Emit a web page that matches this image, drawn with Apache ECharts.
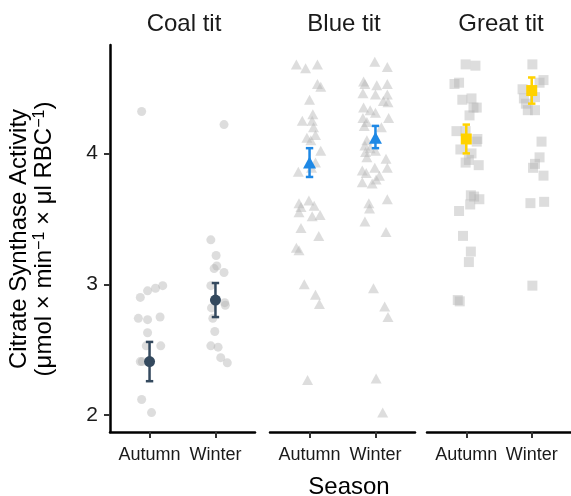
<!DOCTYPE html>
<html>
<head>
<meta charset="utf-8">
<title>Citrate synthase activity</title>
<script src="https://cdn.jsdelivr.net/npm/echarts@6.0.0/dist/echarts.min.js"></script>
<style>
  html, body { margin: 0; padding: 0; background: #fff; }
  #main { width: 571px; height: 496px; }
</style>
</head>
<body>
<div id="main"></div>
<script>
// facets and x categories
const species = ['Coal tit', 'Blue tit', 'Great tit'];
const seasons = ['Autumn', 'Winter'];
const yTicks = [2, 3, 4];

const coalAutumn = [4.32, 2.90, 2.95, 2.97, 2.99, 2.74, 2.73, 2.75, 2.63, 2.53, 2.53, 2.41, 2.41, 2.12, 2.02];
const coalAutumnJit = [-0.12, -0.14, -0.03, 0.09, 0.2, -0.17, -0.03, 0.16, -0.03, -0.05, 0.17, -0.14, -0.11, -0.12, 0.03];
const coalWinter = [4.22, 3.34, 3.22, 3.14, 3.12, 3.09, 2.99, 2.86, 2.84, 2.82, 2.74, 2.64, 2.53, 2.52, 2.44, 2.40];
const coalWinterJit = [0.13, -0.07, 0.01, 0.02, -0.02, 0.13, -0.07, 0.14, 0.15, -0.06, -0.04, -0.01, -0.07, 0.04, 0.08, 0.18];

const blueAutumn = [4.68, 4.65, 4.68, 4.53, 4.51, 4.41, 4.30, 4.25, 4.25, 4.20, 4.12, 4.14, 4.10, 4.02, 3.93, 3.86,
  3.89, 3.62, 3.64, 3.59, 3.60, 3.55, 3.52, 3.53, 3.43, 3.37, 3.28, 3.26, 3.00, 2.92, 2.85, 2.27];
const blueAutumnJit = [-0.2, -0.06, 0.12, 0.12, 0.17, 0, 0.05, -0.11, 0.04, 0.06, -0.04, 0.09, 0.02, 0.17, 0.09, -0.17,
  0.03, -0.16, -0.01, -0.13, 0.07, -0.16, 0.04, 0.16, -0.13, 0.14, -0.2, -0.16, -0.08, 0.09, 0.15, -0.03];
const blueWinter = [4.70, 4.66, 4.55, 4.52, 4.53, 4.53, 4.46, 4.45, 4.45, 4.40, 4.39, 4.35, 4.33, 4.31, 4.27, 4.27,
  4.24, 4.21, 4.20, 4.10, 4.06, 4.04, 4.01, 4.02, 3.97, 3.96, 3.89, 3.89, 3.87, 3.85, 3.83, 3.80, 3.78, 3.77,
  3.65, 3.62, 3.58, 3.48, 3.40, 2.97, 2.83, 2.75, 2.28, 2.02];
const blueWinterJit = [-0.01, 0.18, -0.18, 0.02, 0.18, -0.16, -0.19, 0, 0.18, 0.12, 0.19, -0.18, -0.08, 0, -0.19, 0.2,
  -0.13, -0.17, 0.09, -0.13, -0.16, -0.08, -0.15, 0, -0.13, 0.16, 0.18, -0.01, -0.2, -0.14, 0.06, 0.01, -0.2, -0.05,
  0.18, -0.1, -0.09, -0.16, 0.16, -0.03, 0.14, 0.19, 0.01, 0.11];

const greatAutumn = [4.68, 4.67, 4.53, 4.54, 4.41, 4.42, 4.35, 4.35, 4.29, 4.17, 4.17, 4.11, 4.09, 4.03, 4.00, 3.95,
  3.93, 3.91, 3.68, 3.67, 3.65, 3.61, 3.56, 3.37, 3.25, 3.17, 2.88, 2.87];
const greatAutumnJit = [-0.01, 0.14, -0.18, -0.11, -0.06, 0.08, 0.11, 0.16, 0.05, -0.15, -0.01, 0.17, 0.16, -0.09, 0.08, 0.04,
  -0.01, 0.19, 0.07, 0.12, 0.2, 0.06, -0.11, -0.05, 0.07, 0.04, -0.13, -0.1];
const greatWinter = [4.68, 4.56, 4.54, 4.49, 4.42, 4.43, 4.38, 4.33, 4.33, 4.09, 3.97, 3.92, 3.89, 3.83, 3.62, 3.63, 2.99];
const greatWinterJit = [0.01, 0.18, 0.12, -0.14, -0.12, 0.05, -0.09, -0.06, 0.05, 0.15, 0.12, 0.05, 0.02, 0.18, -0.02, 0.19, 0.01];

// estimated means and interval limits, one row per species: [Autumn, Winter]
const means = [[2.41, 2.88], [3.93, 4.12], [4.11, 4.48]];
const lower = [[2.26, 2.75], [3.82, 4.04], [4.00, 4.38]];
const upper = [[2.56, 3.01], [4.04, 4.21], [4.22, 4.58]];

const raw = [
  [[coalAutumn, coalAutumnJit], [coalWinter, coalWinterJit]],
  [[blueAutumn, blueAutumnJit], [blueWinter, blueWinterJit]],
  [[greatAutumn, greatAutumnJit], [greatWinter, greatWinterJit]]
];

const shapes = ['circle', 'triangle', 'rect'];
const rawSize = [9, [11, 10], 10];
const meanSize = [11, [13, 12], 11];
const meanColors = ['#34495e', '#1e88e5', '#ffd200'];
const font = 'Liberation Sans';

const chart = echarts.init(document.getElementById('main'), null, { renderer: 'canvas' });

const gridPos = [110, 270, 427];
const grids = gridPos.map(l => ({ left: l, width: 145, top: 45, height: 387 }));

const xAxes = species.map((s, i) => ({
  type: 'value', gridIndex: i, min: 0.4, max: 2.6,
  splitLine: { show: false },
  axisLine: { show: true, lineStyle: { color: '#000', width: 2.5 } },
  axisTick: { show: true, customValues: [1, 2], length: 6, lineStyle: { color: '#333', width: 2 } },
  axisLabel: {
    customValues: [1, 2], margin: 14, color: '#1a1a1a', fontSize: 18, fontFamily: font,
    formatter: v => seasons[Math.round(v) - 1]
  }
}));

const yAxes = species.map((s, i) => ({
  type: 'value', gridIndex: i, min: 1.872, max: 4.828,
  splitLine: { show: false },
  axisLine: { show: i === 0, lineStyle: { color: '#000', width: 2.5 } },
  axisTick: { show: i === 0, customValues: yTicks, length: 6, lineStyle: { color: '#333', width: 2 } },
  axisLabel: { show: i === 0, customValues: yTicks, margin: 12, color: '#1a1a1a', fontSize: 21, fontFamily: font }
}));

const series = [];
species.forEach((s, i) => {
  raw[i].forEach(([vals, jit], k) => {
    series.push({
      type: 'scatter', xAxisIndex: i, yAxisIndex: i, z: 2,
      symbol: shapes[i], symbolSize: rawSize[i],
      itemStyle: { color: '#b4b4b4', opacity: 0.45 },
      silent: true,
      data: vals.map((v, j) => [k + 1 + jit[j], v])
    });
  });
  series.push({
    type: 'custom', xAxisIndex: i, yAxisIndex: i, z: 3,
    data: seasons.map((_, k) => [k + 1, lower[i][k], upper[i][k]]),
    renderItem: (params, api) => {
      const x = api.value(0);
      const lo = api.coord([x, api.value(1)]);
      const hi = api.coord([x, api.value(2)]);
      const w = 3.7;
      const st = { stroke: meanColors[i], lineWidth: 2.5 };
      return {
        type: 'group',
        children: [
          { type: 'line', shape: { x1: lo[0], y1: lo[1], x2: hi[0], y2: hi[1] }, style: st },
          { type: 'line', shape: { x1: lo[0] - w, y1: lo[1], x2: lo[0] + w, y2: lo[1] }, style: st },
          { type: 'line', shape: { x1: hi[0] - w, y1: hi[1], x2: hi[0] + w, y2: hi[1] }, style: st }
        ]
      };
    }
  });
  series.push({
    type: 'scatter', xAxisIndex: i, yAxisIndex: i, z: 4,
    symbol: shapes[i], symbolSize: meanSize[i],
    itemStyle: { color: meanColors[i], opacity: 1 },
    data: means[i].map((m, k) => [k + 1, m])
  });
});

const titles = species.map((s, i) => ({
  text: s, left: gridPos[i] + 69, top: 7, textAlign: 'center',
  textStyle: { fontSize: 24, fontWeight: 'normal', color: '#1a1a1a', fontFamily: font }
}));
titles.push({
  text: 'Season', left: 344, top: 470, textAlign: 'center',
  textStyle: { fontSize: 24, fontWeight: 'normal', color: '#000', fontFamily: font }
});

option = {
  animation: false,
  backgroundColor: '#fff',
  title: titles,
  grid: grids,
  xAxis: xAxes,
  yAxis: yAxes,
  series: series,
  graphic: [{
    type: 'text', x: 32, y: 239, rotation: Math.PI / 2,
    style: {
      text: '{a|Citrate Synthase Activity}\n{a|(μmol × min}{s|−1}{a| × μl RBC}{s|−1}{a|)}',
      align: 'center', verticalAlign: 'middle',
      fontFamily: font,
      rich: {
        a: { fontSize: 24, lineHeight: 25, color: '#000', fontFamily: font },
        s: { fontSize: 16, lineHeight: 25, color: '#000', verticalAlign: 'top', padding: [0, 0, 12, 0], fontFamily: font }
      }
    }
  }]
};
option && chart.setOption(option);
</script>
</body>
</html>
